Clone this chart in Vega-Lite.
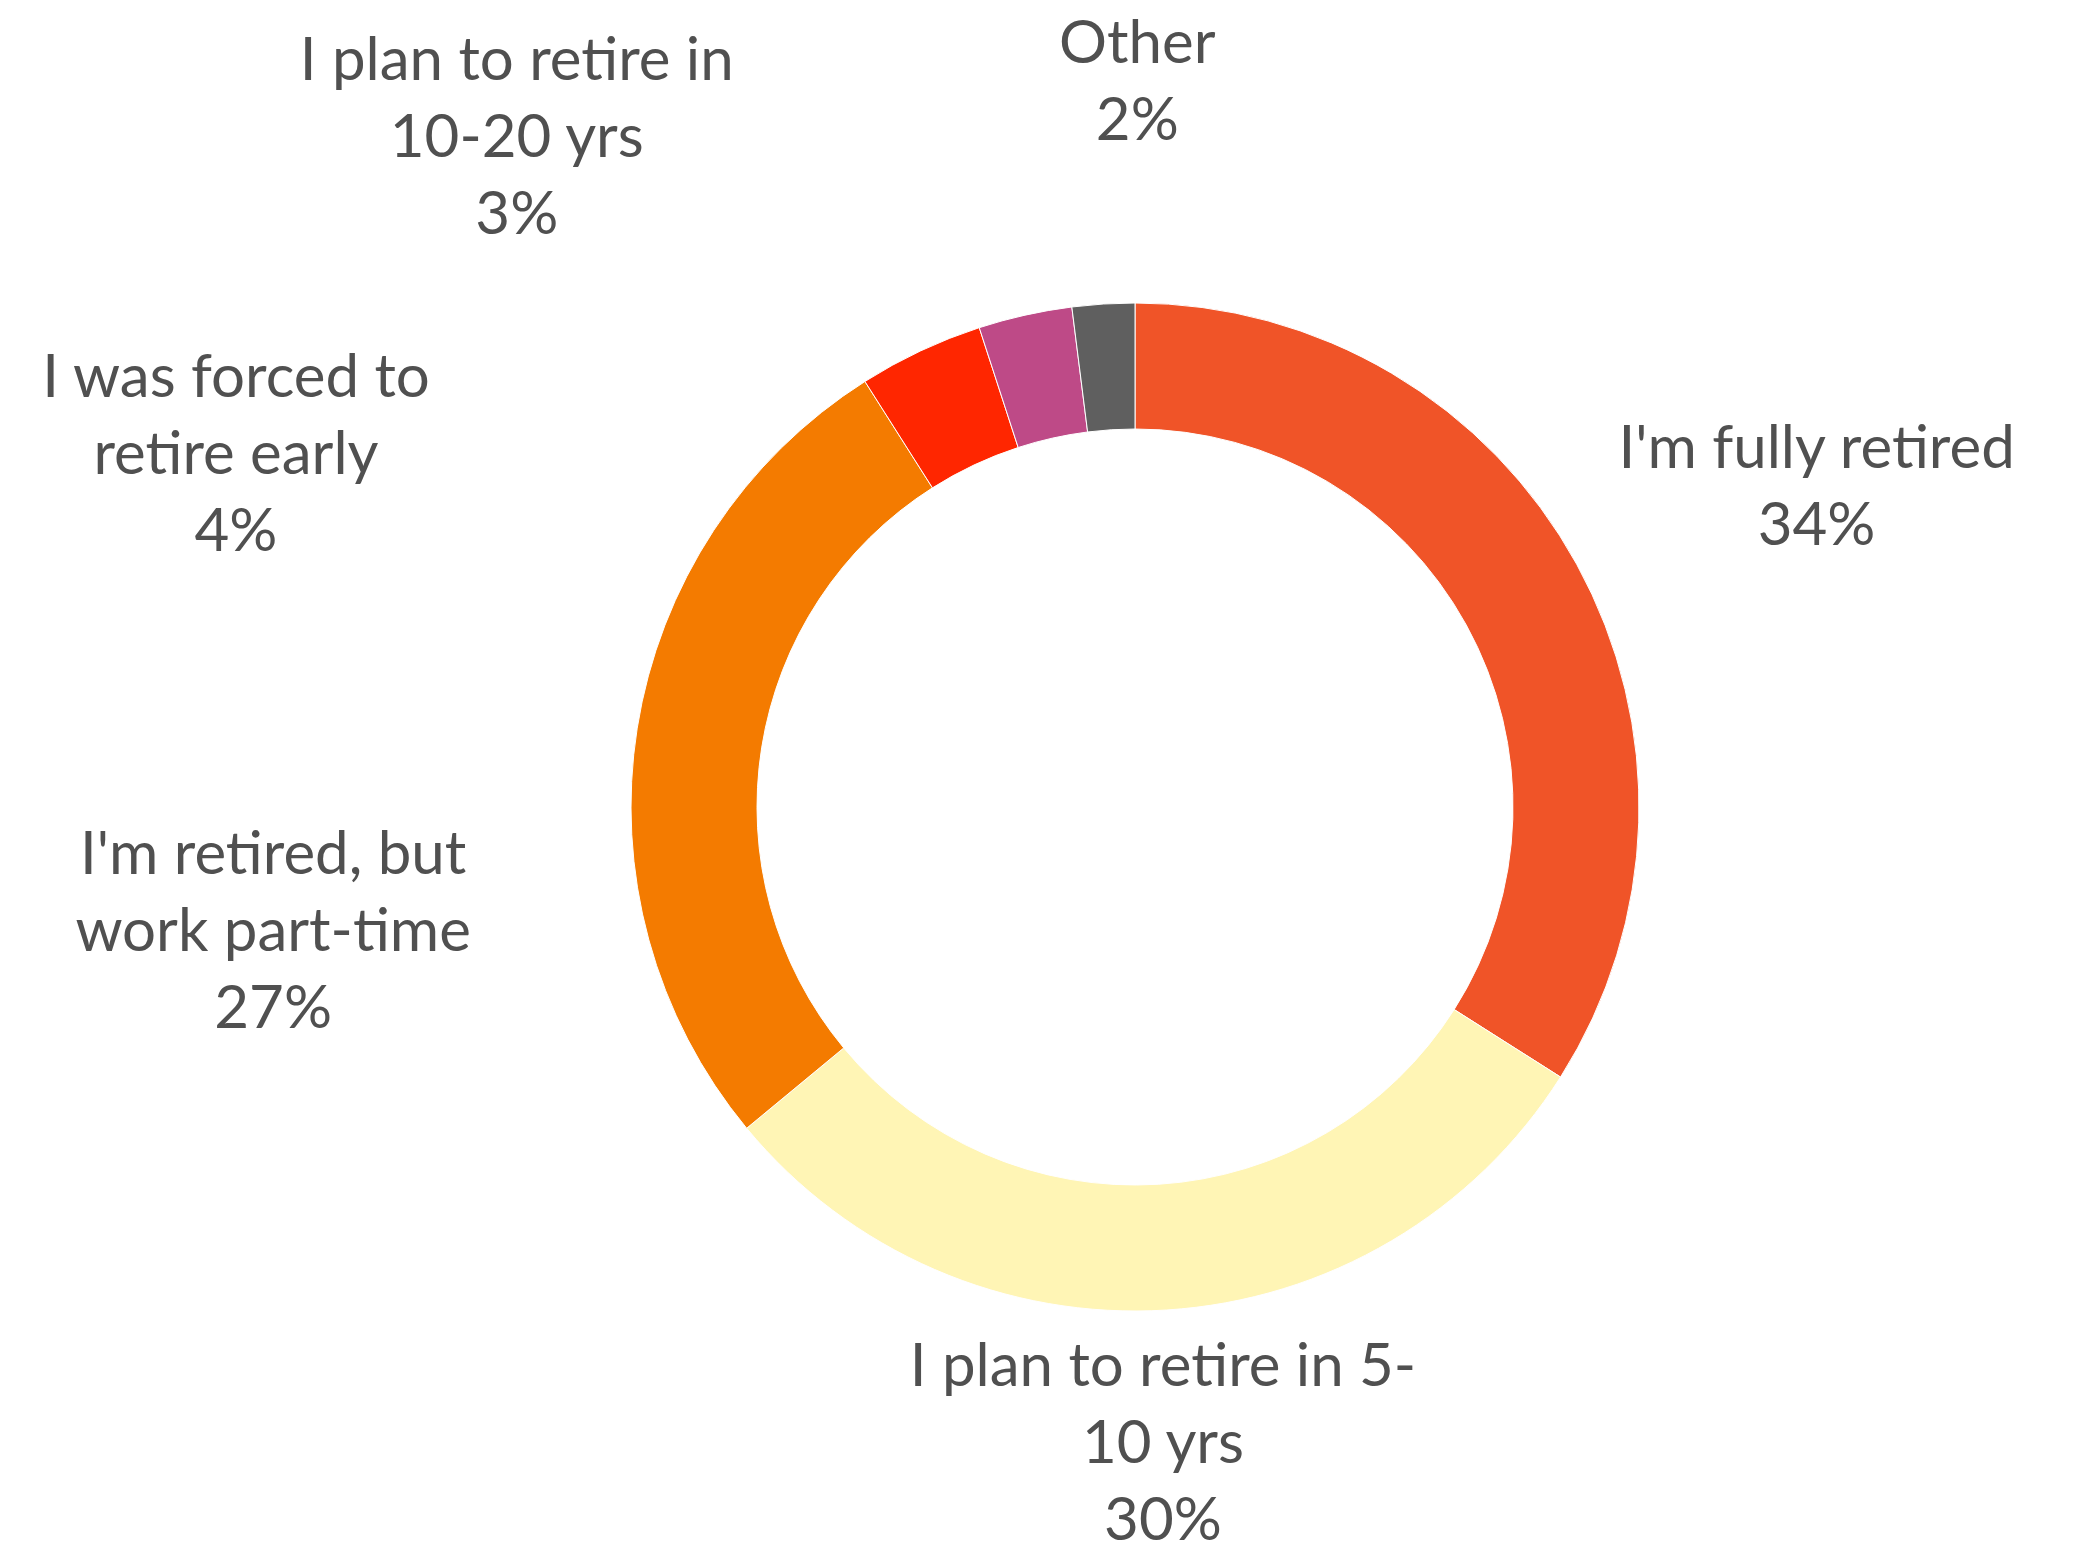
{
  "$schema": "https://vega.github.io/schema/vega-lite/v6.json",
  "width": 1892,
  "height": 1480,
  "autosize": {"type": "none"},
  "padding": {"left": 189, "top": 67, "right": 0, "bottom": 0},
  "background": "white",
  "view": {"stroke": null},
  "data": {
    "values": [
      {"rank": 1, "category": "I'm fully retired", "value": 34, "label": "I'm fully retired\n34%"},
      {"rank": 2, "category": "I plan to retire in 5-10 yrs", "value": 30, "label": "I plan to retire in 5-\n10 yrs\n30%"},
      {"rank": 3, "category": "I'm retired, but work part-time", "value": 27, "label": "I'm retired, but\nwork part-time\n27%"},
      {"rank": 4, "category": "I was forced to retire early", "value": 4, "label": "I was forced to\nretire early\n4%"},
      {"rank": 5, "category": "I plan to retire in 10-20 yrs", "value": 3, "label": "I plan to retire in\n10-20 yrs\n3%"},
      {"rank": 6, "category": "Other", "value": 2, "label": "Other\n2%"}
    ]
  },
  "encoding": {
    "theta": {"field": "value", "type": "quantitative", "stack": true},
    "order": {"field": "rank", "type": "quantitative"}
  },
  "layer": [
    {
      "mark": {"type": "arc", "outerRadius": 504, "innerRadius": 378, "stroke": "white", "strokeWidth": 1},
      "encoding": {
        "color": {
          "field": "category",
          "type": "nominal",
          "scale": {
            "domain": ["I'm fully retired", "I plan to retire in 5-10 yrs", "I'm retired, but work part-time", "I was forced to retire early", "I plan to retire in 10-20 yrs", "Other"],
            "range": ["#F05428", "#FFF5B5", "#F47B00", "#FF2600", "#BE4A87", "#5F5F5F"]
          },
          "legend": null
        }
      }
    },
    {
      "mark": {"type": "text", "radius": 755, "thetaOffset": 0.058, "dy": -32, "font": "Lato", "fontSize": 60, "color": "#505050", "lineBreak": "\n", "lineHeight": 77, "align": "center", "baseline": "middle"},
      "encoding": {"text": {"condition": {"test": "datum.rank === 1", "field": "label"}, "value": ""}}
    },
    {
      "mark": {"type": "text", "radius": 638, "thetaOffset": 0.019, "dy": -76, "font": "Lato", "fontSize": 60, "color": "#505050", "lineBreak": "\n", "lineHeight": 77, "align": "center", "baseline": "middle"},
      "encoding": {"text": {"condition": {"test": "datum.rank === 2", "field": "label"}, "value": ""}}
    },
    {
      "mark": {"type": "text", "radius": 871, "thetaOffset": -0.302, "dy": -77, "font": "Lato", "fontSize": 60, "color": "#505050", "lineBreak": "\n", "lineHeight": 77, "align": "center", "baseline": "middle"},
      "encoding": {"text": {"condition": {"test": "datum.rank === 3", "field": "label"}, "value": ""}}
    },
    {
      "mark": {"type": "text", "radius": 965, "thetaOffset": -0.759, "dy": -77, "font": "Lato", "fontSize": 60, "color": "#505050", "lineBreak": "\n", "lineHeight": 77, "align": "center", "baseline": "middle"},
      "encoding": {"text": {"condition": {"test": "datum.rank === 4", "field": "label"}, "value": ""}}
    },
    {
      "mark": {"type": "text", "radius": 910, "thetaOffset": -0.527, "dy": -77, "font": "Lato", "fontSize": 60, "color": "#505050", "lineBreak": "\n", "lineHeight": 77, "align": "center", "baseline": "middle"},
      "encoding": {"text": {"condition": {"test": "datum.rank === 5", "field": "label"}, "value": ""}}
    },
    {
      "mark": {"type": "text", "radius": 724, "thetaOffset": 0.066, "dy": -38, "font": "Lato", "fontSize": 60, "color": "#505050", "lineBreak": "\n", "lineHeight": 77, "align": "center", "baseline": "middle"},
      "encoding": {"text": {"condition": {"test": "datum.rank === 6", "field": "label"}, "value": ""}}
    }
  ]
}
